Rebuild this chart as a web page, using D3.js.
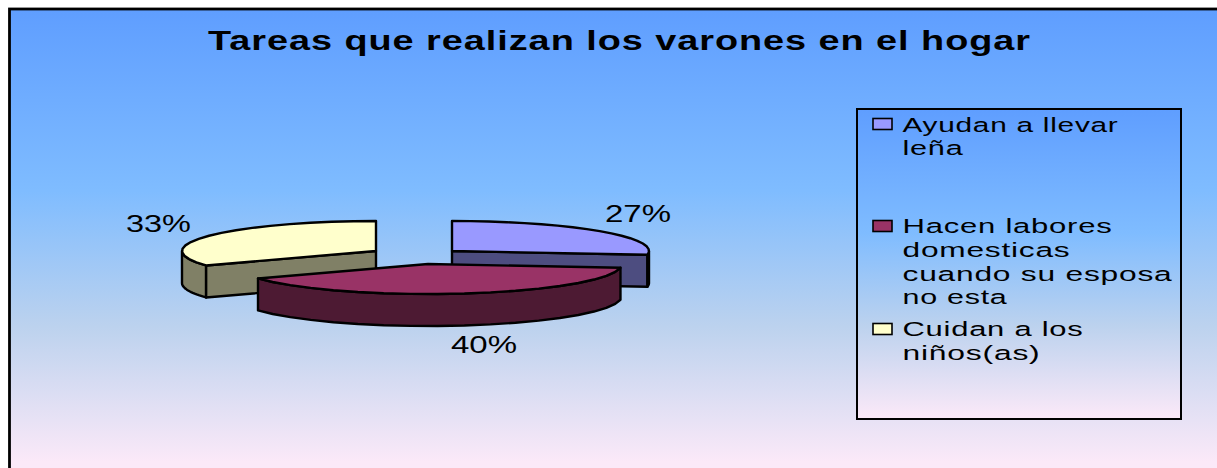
<!DOCTYPE html>
<html><head><meta charset="utf-8">
<script src="https://cdnjs.cloudflare.com/ajax/libs/d3/7.8.5/d3.min.js"></script>
<style>html,body{margin:0;padding:0;background:#fff;overflow:hidden}svg{display:block}text{font-family:"Liberation Sans",Arial,sans-serif;fill:#000}</style>
</head><body><div id="c"></div>
<script>
const titleText = "Tareas que realizan los varones en el hogar";
const categories = ["Ayudan a llevar leña","Hacen labores domesticas cuando su esposa no esta","Cuidan a los niños(as)"];
const legendLines = [["Ayudan a llevar","leña"],["Hacen labores","domesticas","cuando su esposa","no esta"],["Cuidan a los","niños(as)"]];
const values = [27,40,33];
const labels = ["27%","40%","33%"];
const topColors = ["#9999ff","#993366","#ffffcc"];
const sideColors = ["#4d4d80","#4d1a33","#808066"];
const width = 1217, height = 468;

const svg = d3.select("#c").append("svg").attr("width",width).attr("height",height);
const defs = svg.append("defs");
function grad(id,y1,y2){
  const g = defs.append("linearGradient").attr("id",id).attr("gradientUnits","userSpaceOnUse").attr("x1",0).attr("x2",0).attr("y1",y1).attr("y2",y2);
  [[0,"#5f9eff"],[0.4,"#7fbcff"],[0.7,"#bcd2ee"],[1,"#fbe9f8"]].forEach(s=>g.append("stop").attr("offset",s[0]).attr("stop-color",s[1]));
}
grad("bg",10,462); grad("lg",110,418);
svg.append("rect").attr("x",9.5).attr("y",9).attr("width",1300).attr("height",490).attr("fill","url(#bg)").attr("stroke","#000").attr("stroke-width",2.8);

svg.append("text").attr("x",208).attr("y",50).attr("font-size",27.5).attr("font-weight","bold").attr("letter-spacing",0.7)
  .attr("textLength",823).attr("lengthAdjust","spacingAndGlyphs").text(titleText);

// pie: 3D projection of d3.pie angles
const ry = 30, depth = 32, segments = 18;
const radii = [197,194,194];
const pie = d3.pie().sort(null).value(d=>d)(values);
const centers = [[452,251],[428,264],[376,251]];
const scaleX = r => d3.scaleLinear().domain([-1,1]).range([-r,r]);
const sy = d3.scaleLinear().domain([-1,1]).range([-ry,ry]);
const pt = (i,a,dz=0)=>[centers[i][0]+scaleX(radii[i])(Math.sin(a)), centers[i][1]+sy(-Math.cos(a))+dz];
function arcPts(i,a0,a1,dz=0){
  return d3.range(0,segments+1).map(k=>pt(i,a0+(a1-a0)*k/segments,dz));
}
const line = d3.line();
const g = svg.append("g").attr("stroke","#000").attr("stroke-width",2.4).attr("stroke-linejoin","round");
function wall(i,a0,a1,fill){
  const top = arcPts(i,a0,a1), bot = arcPts(i,a0,a1,depth).reverse();
  g.append("path").attr("d",line(top.concat(bot))+"Z").attr("fill",fill);
}
function radial(i,a,fill){
  const c = centers[i], o = pt(i,a);
  g.append("path").attr("d",line([c,o,[o[0],o[1]+depth],[c[0],c[1]+depth]])+"Z").attr("fill",fill);
}
function topFace(i,a0,a1,fill){
  g.append("path").attr("d",line([centers[i]].concat(arcPts(i,a0,a1)))+"Z").attr("fill",fill);
}
// back slices first, then the front slice
[2,0,1].forEach(i=>{
  const d = pie[i];
  if(i===0){
    radial(i,d.endAngle,sideColors[0]);
    wall(i,Math.PI/2,d.endAngle,"#000");
  }
  if(i===1){
    wall(i,d.startAngle,d.endAngle,sideColors[1]);
  }
  if(i===2){
    radial(i,d.startAngle,sideColors[2]);
    wall(i,d.startAngle,Math.PI*1.5,sideColors[2]);
  }
  topFace(i,d.startAngle,d.endAngle,topColors[i]);
});
// data labels
const labelPos = [[605,222,66],[451,352.5,66],[126,232,65]];
labels.forEach((t,i)=>svg.append("text").attr("x",labelPos[i][0]).attr("y",labelPos[i][1]).attr("font-size",23)
  .attr("textLength",labelPos[i][2]).attr("lengthAdjust","spacingAndGlyphs").text(t));

// legend
svg.append("rect").attr("x",857).attr("y",109).attr("width",324).attr("height",310).attr("fill","url(#lg)").attr("stroke","#000").attr("stroke-width",2);
const keyY = [124,226,329];
const lineY = [[132,155],[233,257,281,304],[336,360]];
const lineW = [[216,61],[210,168,270,105],[181,138]];
legendLines.forEach((ls,i)=>{
  svg.append("rect").attr("x",873).attr("y",keyY[i]-5.5).attr("width",19).attr("height",11).attr("fill",topColors[i]).attr("stroke","#000").attr("stroke-width",1.6);
  ls.forEach((t,j)=>svg.append("text").attr("x",902.5).attr("y",lineY[i][j]).attr("font-size",20.5).attr("letter-spacing",0.5)
    .attr("textLength",lineW[i][j]).attr("lengthAdjust","spacingAndGlyphs").text(t));
});
</script></body></html>
